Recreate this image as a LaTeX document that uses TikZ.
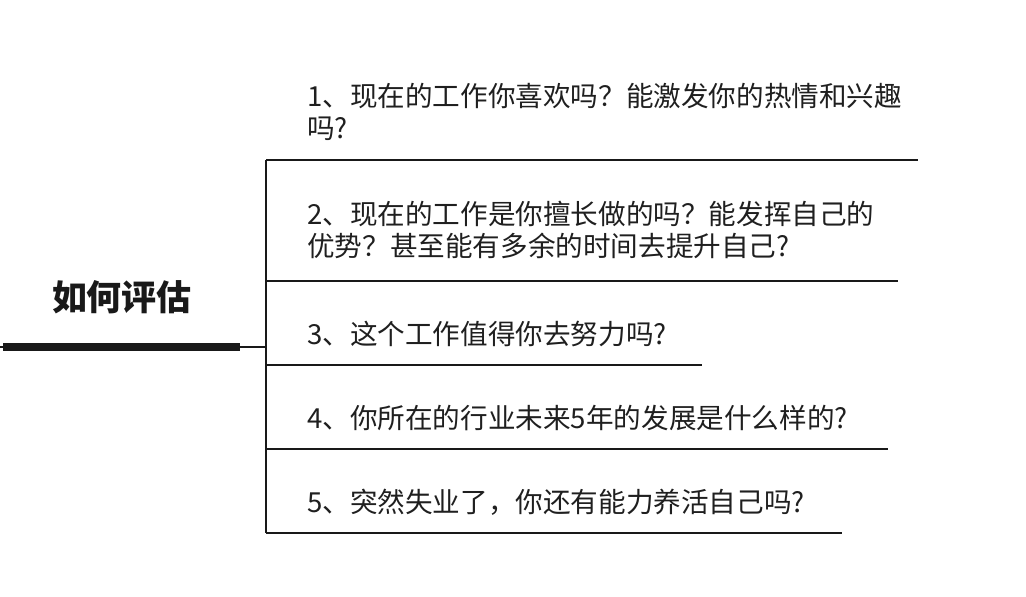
\documentclass[tikz,border=0pt]{standalone}
\usepackage{fontspec}
\setmainfont{Noto Sans CJK SC}
\newfontfamily\cjk{Noto Sans CJK SC}
\begin{document}
\begin{tikzpicture}[x=1pt,y=-1pt,
	question/.style={anchor=west,align=left,inner sep=0pt,text=black!88,
		font=\cjk\fontsize{27.6}{32}\selectfont},
	rule/.style={line width=2pt,black!90}]
	\useasboundingbox (0,0) rectangle (1026,597);
	% title and its bar
	\node[inner sep=0pt,text=black!90,font=\cjk\bfseries\fontsize{35}{40}\selectfont] (title) at (122,297) {如何评估};
	\coordinate (root) at (0,347);
	\coordinate (hub) at (266,347);
	\draw[rule] (root) -- (hub);
	\draw[line width=8pt,black!90] (3,347) -- (240,347);
	% bracket
	\coordinate (top) at (266,160);
	\coordinate (bot) at (266,533);
	\draw[rule] (top) -- (bot);
	\foreach \y/\len in {160/918,281/898,365/702,449/888,533/842}
	{
		\draw[rule] (266,\y) -- (\len,\y);
	}
	% questions
	\node[question] (q1) at (307,112) {1、现在的工作你喜欢吗？能激发你的热情和兴趣\\吗?};
	\node[question] (q2) at (307,230) {2、现在的工作是你擅长做的吗？能发挥自己的\\优势？甚至能有多余的时间去提升自己?};
	\node[question] (q3) at (307,334) {3、这个工作值得你去努力吗?};
	\node[question] (q4) at (307,418) {4、你所在的行业未来5年的发展是什么样的?};
	\node[question] (q5) at (307,502) {5、突然失业了，你还有能力养活自己吗?};
\end{tikzpicture}
\end{document}
